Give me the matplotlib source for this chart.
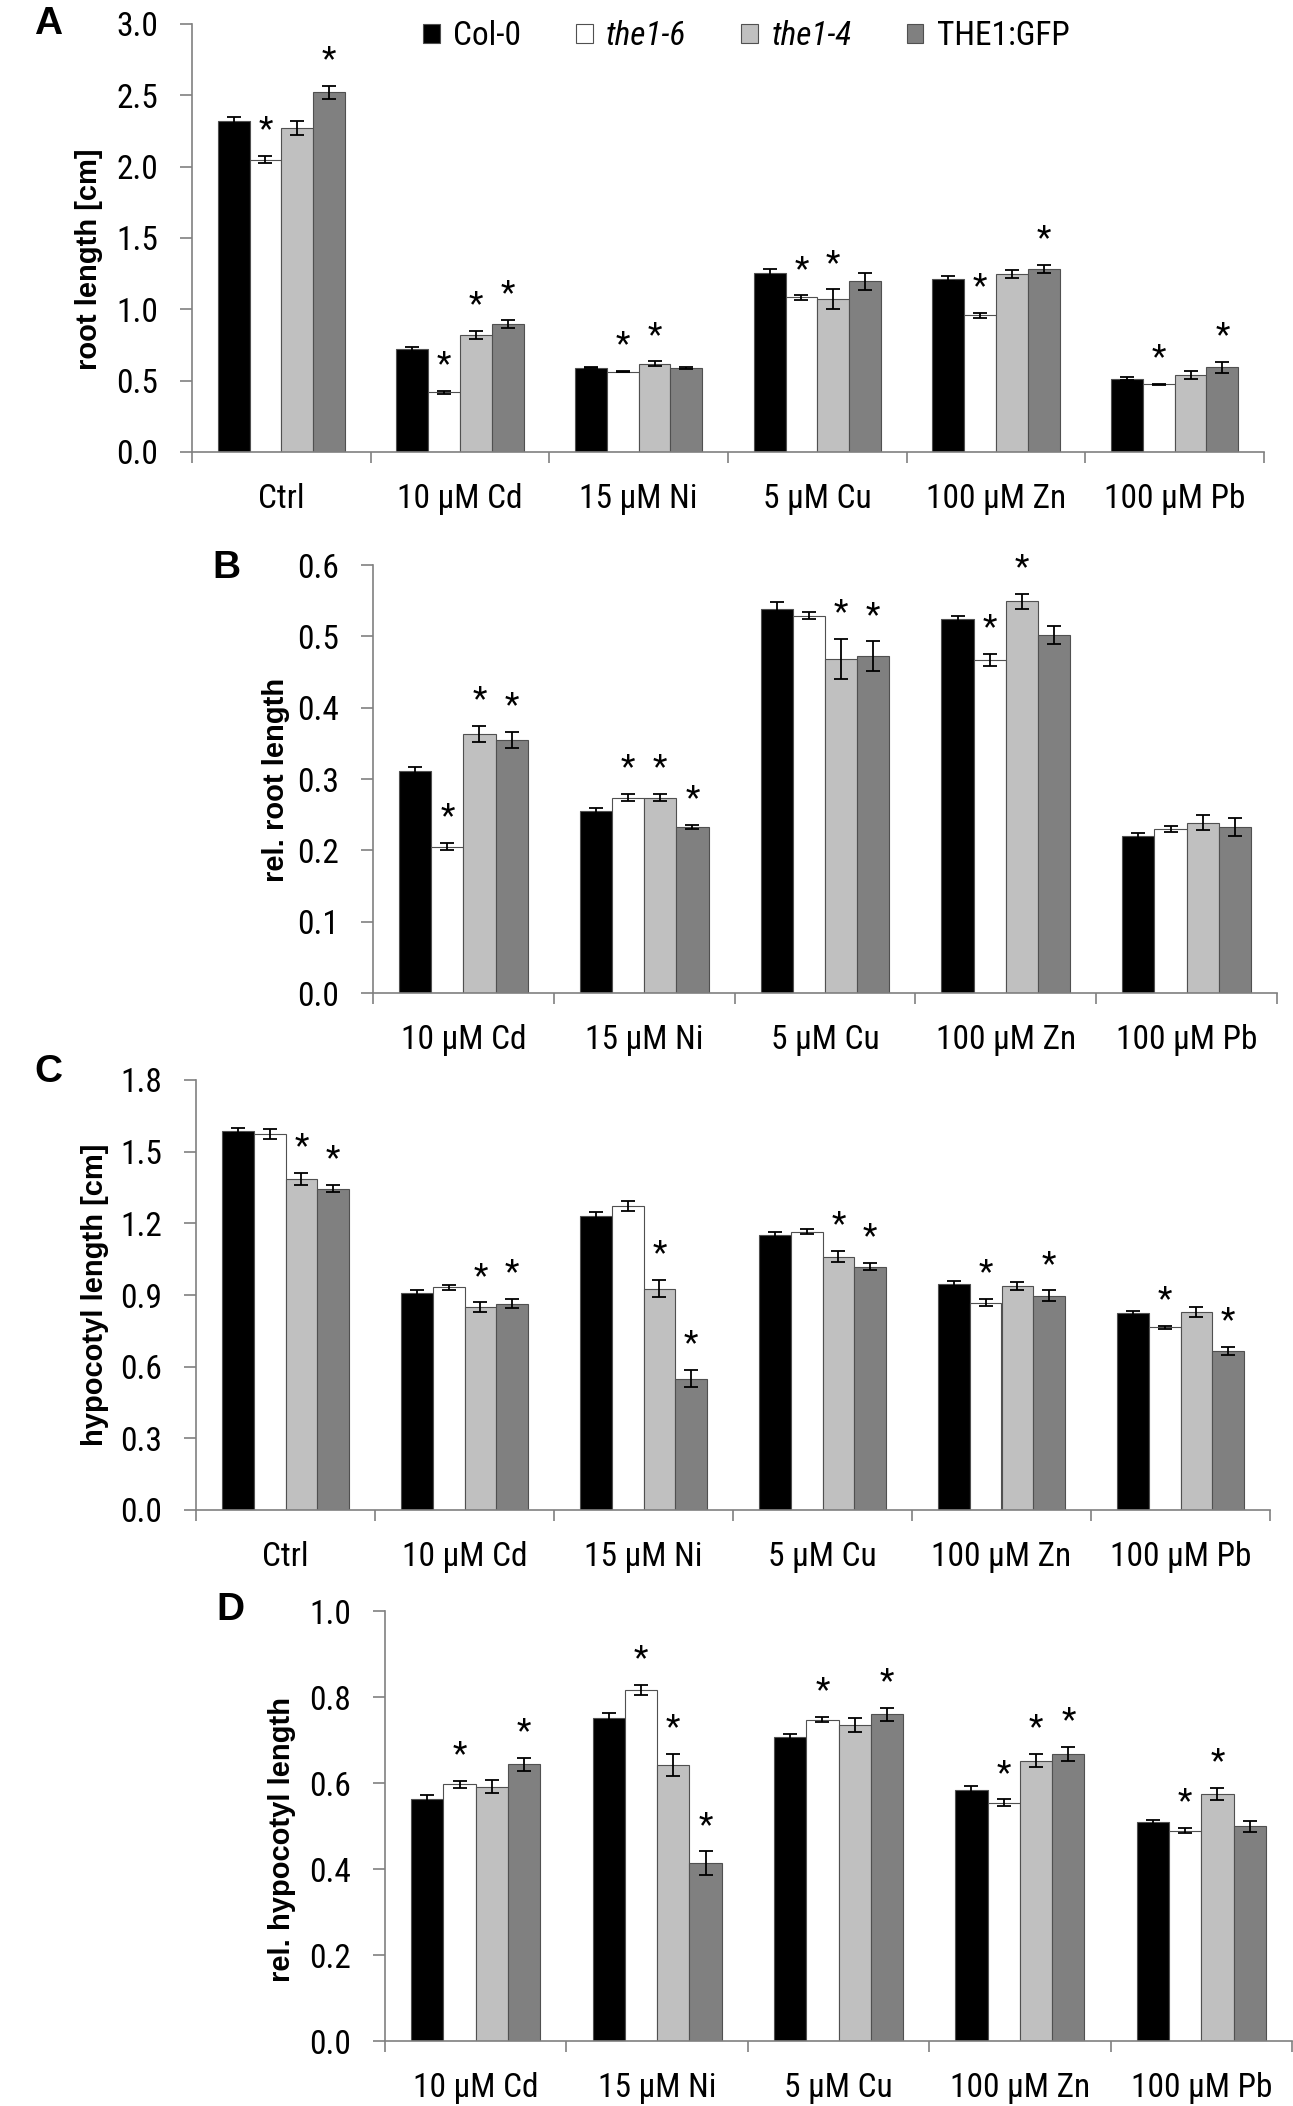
import numpy as np
import matplotlib
matplotlib.use('Agg')
import matplotlib.pyplot as plt
from matplotlib import font_manager

# --- data ---
genotypes = ['Col-0', 'the1-6', 'the1-4', 'THE1:GFP']
treat_all = ['Ctrl', '10 µM Cd', '15 µM Ni', '5 µM Cu', '100 µM Zn', '100 µM Pb']
treat_rel = treat_all[1:]

root_mean = [[2.32, 0.72, 0.592, 1.257, 1.216, 0.515],
             [2.05, 0.42, 0.563, 1.083, 0.957, 0.474],
             [2.27, 0.82, 0.620, 1.070, 1.247, 0.541],
             [2.52, 0.90, 0.587, 1.196, 1.283, 0.595]]
root_err = [[0.030, 0.017, 0.006, 0.025, 0.020, 0.010],
            [0.025, 0.010, 0.005, 0.015, 0.020, 0.005],
            [0.050, 0.027, 0.015, 0.070, 0.030, 0.030],
            [0.045, 0.028, 0.007, 0.058, 0.030, 0.038]]
root_sig = [[0, 0, 0, 0, 0, 0],
            [1, 1, 1, 1, 1, 1],
            [0, 1, 1, 1, 0, 0],
            [1, 1, 0, 0, 1, 1]]

relroot_mean = [[0.311, 0.255, 0.539, 0.524, 0.220],
                [0.205, 0.274, 0.529, 0.467, 0.230],
                [0.363, 0.274, 0.468, 0.549, 0.239],
                [0.355, 0.233, 0.472, 0.502, 0.233]]
relroot_err = [[0.006, 0.004, 0.009, 0.005, 0.004],
               [0.005, 0.005, 0.005, 0.008, 0.004],
               [0.011, 0.005, 0.028, 0.011, 0.011],
               [0.011, 0.003, 0.021, 0.013, 0.013]]
relroot_sig = [[0, 0, 0, 0, 0],
               [1, 1, 0, 1, 0],
               [1, 1, 1, 1, 0],
               [1, 1, 1, 0, 0]]

hyp_mean = [[1.588, 0.910, 1.229, 1.151, 0.948, 0.824],
            [1.575, 0.933, 1.273, 1.165, 0.868, 0.765],
            [1.386, 0.849, 0.927, 1.061, 0.938, 0.829],
            [1.345, 0.864, 0.550, 1.019, 0.897, 0.666]]
hyp_err = [[0.010, 0.012, 0.017, 0.012, 0.010, 0.010],
           [0.020, 0.010, 0.020, 0.010, 0.015, 0.007],
           [0.024, 0.020, 0.037, 0.022, 0.017, 0.020],
           [0.015, 0.018, 0.037, 0.016, 0.022, 0.018]]
hyp_sig = [[0, 0, 0, 0, 0, 0],
           [0, 0, 0, 0, 1, 1],
           [1, 1, 1, 1, 0, 0],
           [1, 1, 1, 1, 1, 1]]

relhyp_mean = [[0.563, 0.752, 0.706, 0.584, 0.509],
               [0.597, 0.816, 0.747, 0.554, 0.489],
               [0.591, 0.642, 0.735, 0.652, 0.574],
               [0.644, 0.413, 0.760, 0.668, 0.499]]
relhyp_err = [[0.008, 0.010, 0.007, 0.008, 0.005],
              [0.008, 0.012, 0.006, 0.008, 0.006],
              [0.015, 0.025, 0.016, 0.015, 0.014],
              [0.015, 0.028, 0.015, 0.016, 0.013]]
relhyp_sig = [[0, 0, 0, 0, 0],
              [1, 1, 1, 1, 1],
              [0, 1, 0, 1, 1],
              [1, 1, 1, 1, 0]]

colors = ['#000000', '#ffffff', '#c0c0c0', '#808080']

# fonts: a narrow grotesque for ticks/legend if one is around
names = {f.name for f in font_manager.fontManager.ttflist}
narrow = 'Liberation Sans'
for cand in ['Liberation Sans Narrow', 'Arial Narrow', 'Roboto Condensed', 'Archivo Narrow', 'PT Sans Narrow']:
    if cand in names:
        narrow = cand
        break
plt.rcParams['font.family'] = [narrow, 'Liberation Sans', 'DejaVu Sans']
bold_font = ['Liberation Sans', 'DejaVu Sans']
fs = 24

W, H = 1293, 2106
fig = plt.figure(figsize=(W / 100, H / 100), dpi=100)


def px_axes(left, right, top, bottom):
    return fig.add_axes([left / W, 1 - bottom / H, (right - left) / W, (bottom - top) / H])


def panel(ax, cats, means, errs, sig, ymax, step):
    n = len(cats)
    x = np.arange(n) + 0.5
    w = 0.178
    for i in range(4):
        xs = x + (i - 1.5) * w
        m = np.array(means[i])
        e = np.array(errs[i])
        ax.bar(xs, m, w, color=colors[i], edgecolor='#505050', linewidth=0.8, zorder=2)
        ax.errorbar(xs, m, yerr=e, fmt='none', ecolor='black', elinewidth=1.3,
                    capsize=5, capthick=1.3, zorder=3)
        for j in range(n):
            if sig[i][j]:
                ax.annotate('*', xy=(xs[j], m[j] + e[j]), xytext=(0, 12),
                            textcoords='offset points', ha='center', va='baseline',
                            fontsize=fs)
    ticks = np.arange(0, ymax + step / 2, step)
    ax.set_xlim(0, n)
    ax.set_ylim(0, ymax)
    ax.set_yticks(ticks)
    ax.set_yticklabels(['%.1f' % v for v in ticks])
    ax.set_xticks(x)
    ax.set_xticklabels(cats)
    ax.set_xticks(np.arange(n + 1), minor=True)
    ax.tick_params(axis='x', which='major', length=0, pad=22, labelsize=fs)
    ax.tick_params(axis='x', which='minor', length=8, width=1.2, color='#808080', direction='out')
    ax.tick_params(axis='y', length=8.5, width=1.2, color='#808080', pad=16, labelsize=fs)
    for s in ['top', 'right']:
        ax.spines[s].set_visible(False)
    for s in ['left', 'bottom']:
        ax.spines[s].set_color('#808080')
        ax.spines[s].set_linewidth(1.2)
    ax.set_facecolor('none')


axA = px_axes(192, 1264, 24, 452)
panel(axA, treat_all, root_mean, root_err, root_sig, 3.0, 0.5)
axB = px_axes(373, 1277, 565, 993)
panel(axB, treat_rel, relroot_mean, relroot_err, relroot_sig, 0.6, 0.1)
axC = px_axes(196, 1270, 1080, 1510)
panel(axC, treat_all, hyp_mean, hyp_err, hyp_sig, 1.8, 0.3)
axD = px_axes(385, 1292, 1611, 2041)
panel(axD, treat_rel, relhyp_mean, relhyp_err, relhyp_sig, 1.0, 0.2)

# legend
handles = [plt.Rectangle((0, 0), 1, 1, facecolor=c, edgecolor='#505050', linewidth=0.8) for c in colors]
leg = axA.legend(handles, genotypes, loc='center left', ncol=4, frameon=False,
                 bbox_to_anchor=((423 - 192) / 1072, 1 - 12 / 428), borderaxespad=0, borderpad=0,
                 handlelength=0.5, handleheight=0.5, handletextpad=0.4, columnspacing=1.65,
                 fontsize=fs)
for t in leg.get_texts()[1:3]:
    t.set_fontstyle('italic')

# y labels and panel letters
ylabels = [(89, 259, 'root length [cm]'), (276, 780, 'rel. root length'),
           (95, 1295, 'hypocotyl length [cm]'), (282, 1840, 'rel. hypocotyl length')]
for xp, yp, s in ylabels:
    fig.text(xp / W, 1 - yp / H, s, rotation=90, ha='center', va='center',
             fontsize=21, fontweight='bold', family=bold_font)
letters = [(48, 24, 'A'), (226, 568, 'B'), (48, 1072, 'C'), (230, 1610, 'D')]
for xp, yp, s in letters:
    fig.text(xp / W, 1 - yp / H, s, ha='center', va='center',
             fontsize=28, fontweight='bold', family=bold_font)

fig.savefig('out.png', dpi=100)
